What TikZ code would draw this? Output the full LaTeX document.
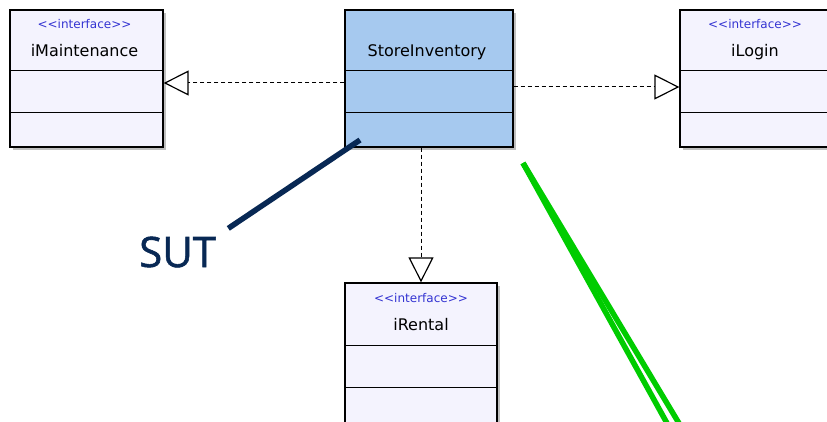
\documentclass[tikz,border=0pt]{standalone}
\usepackage{fontspec}
\setmainfont{DejaVu Sans}
\newfontfamily\labelfont{Open Sans}[FakeBold=1.3]
\usetikzlibrary{arrows.meta,shadows,calc}
\definecolor{ifacefill}{RGB}{244,243,254}
\definecolor{storefill}{RGB}{166,201,239}
\definecolor{stereoblue}{RGB}{51,51,210}
\definecolor{sutnavy}{RGB}{8,40,84}
\definecolor{markgreen}{RGB}{0,204,0}
\begin{document}
\begin{tikzpicture}[x=1pt,y=-1pt,
  classbox/.style={draw=black, line width=1.3pt, inner sep=0pt, minimum height=137pt,
    drop shadow={shadow xshift=3pt, shadow yshift=-3pt, fill=black!25, opacity=1}},
  divider/.style={draw=black, line width=1pt},
  stereo/.style={font=\fontsize{12}{14}\selectfont, text=stereoblue, anchor=base, inner sep=0pt},
  cname/.style={font=\fontsize{16}{19}\selectfont, text=black, anchor=base, inner sep=0pt},
  realize/.style={line width=1pt, dash pattern=on 4pt off 3pt,
    -{Triangle[open, length=25pt, width=25pt, line width=1.2pt]}},
  sutline/.style={draw=sutnavy, line width=5.5pt},
  greenline/.style={draw=markgreen, line width=5.5pt}]
\useasboundingbox (0,0) rectangle (827,422);
\fill[white] (0,0) rectangle (827,422);

% class boxes
\node[classbox, fill=ifacefill, minimum width=153pt] (maint) at (86.5,78.5) {};
\node[classbox, fill=storefill, minimum width=168pt] (store) at (429,78.5) {};
\node[classbox, fill=ifacefill, minimum width=152pt] (login) at (756,78.5) {};
\node[classbox, fill=ifacefill, minimum width=152pt, minimum height=150pt] (rental) at (421,358) {};

% compartment dividers
\foreach \b/\da/\db in {maint/61/103, store/61/103, login/61/103, rental/63/105} {
  \draw[divider] ($(\b.north west)+(0,\da)$) -- ($(\b.north east)+(0,\da)$);
  \draw[divider] ($(\b.north west)+(0,\db)$) -- ($(\b.north east)+(0,\db)$);
}

% stereotypes and names
\node[stereo] (maintst) at ($(maint.north)+(-2,19)$) {<\kern0pt<interface>\kern0pt>};
\node[cname] (maintnm) at ($(maint.north)+(-2,47)$) {iMaintenance};
\node[cname] (storenm) at ($(store.north)+(-2,47)$) {StoreInventory};
\node[stereo] (loginst) at ($(login.north)+(-1,19)$) {<\kern0pt<interface>\kern0pt>};
\node[cname] (loginnm) at ($(login.north)+(-1,47)$) {iLogin};
\node[stereo] (rentalst) at ($(rental.north)+(0,20)$) {<\kern0pt<interface>\kern0pt>};
\node[cname] (rentalnm) at ($(rental.north)+(0,48)$) {iRental};

% realization arrows
\coordinate (leftrow) at (0,83);
\coordinate (rightrow) at (0,87);
\draw[realize] (store.west |- leftrow) -- (maint.east |- leftrow);
\draw[realize] (store.east |- rightrow) -- (login.west |- rightrow);
\draw[realize] (store.south -| rental.north) -- (rental.north);

% annotation
\node[font=\labelfont\fontsize{42}{50}\selectfont, text=sutnavy, anchor=base west, inner sep=0pt] (sut) at (139,267) {SUT};
\coordinate (sutend) at (360,140);
\draw[sutline] ($(sut.north east)+(12,-8)$) -- (sutend);

% green marker strokes
\coordinate (gstart) at (523,163);
\coordinate (gendA) at (668,425);
\coordinate (gendB) at (680,425);
\draw[greenline] (gstart) -- (gendA);
\draw[greenline] (gstart) -- (gendB);
\end{tikzpicture}
\end{document}
